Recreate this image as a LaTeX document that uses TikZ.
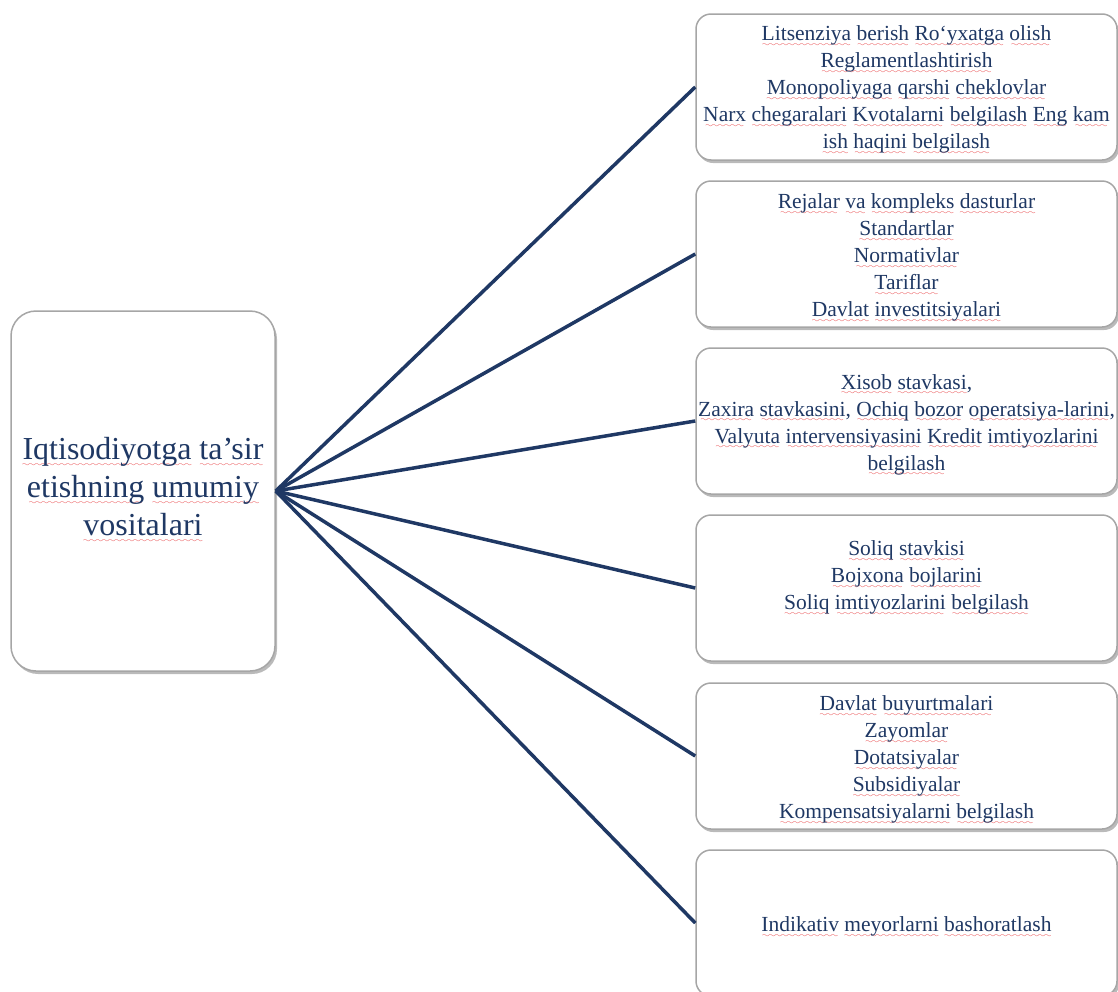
\documentclass[tikz,border=0pt]{standalone}
\usepackage{fontspec}
\setmainfont{Liberation Serif}
\usetikzlibrary{shadows}
\definecolor{navy}{HTML}{1F3864}
\definecolor{sqred}{HTML}{E8393C}
\definecolor{boxgray}{HTML}{A6A6A6}
\font\sqfont=lasy6 scaled 1250
\newcommand\sqgen[2]{\setbox0\hbox{#2}\rlap{\lower#1\hbox to\wd0{\color{sqred}\cleaders\hbox{\sqfont\char58}\hfil}}\box0\relax}
\newcommand\sq[1]{\sqgen{5.5pt}{#1}}
\newcommand\sqb[1]{\sqgen{7.5pt}{#1}}
\tikzset{
  card/.style={draw=boxgray, line width=1.5pt, fill=white, rounded corners=15pt,
    minimum width=421pt, minimum height=146pt, inner sep=0pt,
    drop shadow={shadow xshift=2pt, shadow yshift=-3pt, opacity=0.45, fill=black!60}},
  bigcard/.style={card, rounded corners=25pt, minimum width=264pt, minimum height=360pt},
  cardtext/.style={text=navy, align=center, font=\fontsize{21.5pt}{27pt}\selectfont, inner sep=0pt},
  bigtext/.style={text=navy, align=center, font=\fontsize{32pt}{38pt}\selectfont, inner sep=0pt},
  link/.style={draw=navy, line width=3.5pt}
}
\begin{document}
\begin{tikzpicture}[x=1pt,y=-1pt]
\useasboundingbox (0,0) rectangle (1118,991);
% boxes
\node[bigcard] (L) at (143,491) {};
\node[card] (B1) at (906.5,87) {};
\node[card] (B2) at (906.5,254) {};
\node[card] (B3) at (906.5,421) {};
\node[card] (B4) at (906.5,588) {};
\node[card] (B5) at (906.5,756) {};
\node[card] (B6) at (906.5,923) {};
% connectors
\foreach \b in {B1,B2,B3,B4,B5,B6} \draw[link] (L.east) -- (\b.west);
% texts
\node[bigtext] (LT) at (143,490) {\sqb{Iqtisodiyotga} \sqb{ta’sir}\\ \sqb{etishning} \sqb{umumiy}\\ \sqb{vositalari}};
\node[cardtext] (T1) at (906.5,90) {\sq{Litsenziya} \sq{berish} \sq{Ro‘yxatga} \sq{olish}\\
  \sq{Reglamentlashtirish}\\
  \sq{Monopoliyaga} \sq{qarshi} \sq{cheklovlar}\\
  \sq{Narx} \sq{chegaralari} \sq{Kvotalarni} \sq{belgilash} \sq{Eng} \sq{kam}\\
  \sq{ish} \sq{haqini} \sq{belgilash}};
\node[cardtext] (T2) at (906.5,258) {\sq{Rejalar} \sq{va} \sq{kompleks} \sq{dasturlar}\\
  \sq{Standartlar}\\ \sq{Normativlar}\\ \sq{Tariflar}\\ \sq{Davlat} \sq{investitsiyalari}};
\node[cardtext] (T3) at (906.5,425) {\sq{Xisob} \sq{stavkasi},\\
  \sq{Zaxira} \sq{stavkasini}, \sq{Ochiq} \sq{bozor} \sq{operatsiya-larini},\\
  \sq{Valyuta} \sq{intervensiyasini} \sq{Kredit} \sq{imtiyozlarini}\\
  \sq{belgilash}};
\node[cardtext] (T4) at (906.5,578) {\sq{Soliq} \sq{stavkisi}\\ \sq{Bojxona} \sq{bojlarini}\\
  \sq{Soliq} \sq{imtiyozlarini} \sq{belgilash}};
\node[cardtext] (T5) at (906.5,760) {\sq{Davlat} \sq{buyurtmalari}\\ \sq{Zayomlar}\\ \sq{Dotatsiyalar}\\
  \sq{Subsidiyalar}\\ \sq{Kompensatsiyalarni} \sq{belgilash}};
\node[cardtext] (T6) at (906.5,927) {\sq{Indikativ} \sq{meyorlarni} \sq{bashoratlash}};
\end{tikzpicture}
\end{document}
